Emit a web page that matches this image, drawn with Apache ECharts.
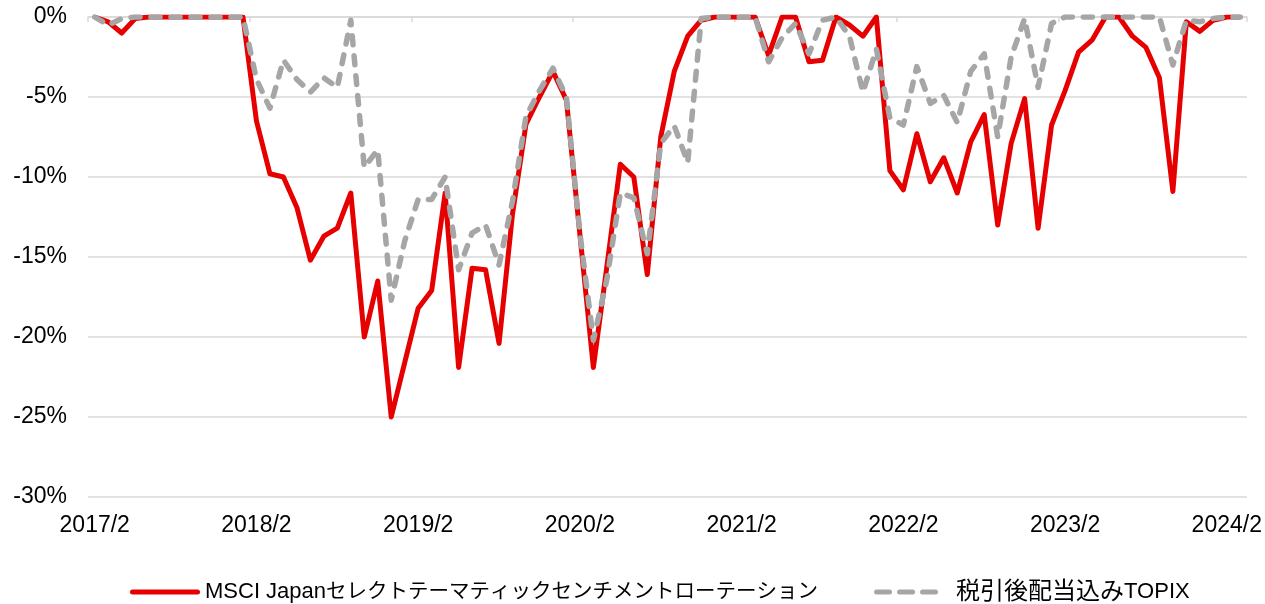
<!DOCTYPE html>
<html>
<head>
<meta charset="utf-8">
<title>drawdown</title>
<script src="https://cdn.jsdelivr.net/npm/echarts@6/dist/echarts.min.js"></script>
<style>
  html, body { margin: 0; padding: 0; background: #fff; }
  #main { width: 1265px; height: 604px; }
</style>
</head>
<body>
<div id="main"></div>
<script>
// 月次カテゴリ 2017/2 〜 2024/3
var months = [];
for (var k = 0; k < 86; k++) {
  var m = 1 + k;               // 2017/2 を起点
  var y = 2017 + Math.floor(m / 12);
  months.push(y + '/' + (m % 12 + 1));
}

var seriesNames = ['MSCI Japanセレクトテーマティックセンチメントローテーション', '税引後配当込みTOPIX'];

// ドローダウン(%)
var msciDrawdown = [
  0, -0.3, -1.0, -0.1, 0, 0, 0, 0, 0, 0, 0, 0,
  -6.5, -9.8, -10.0, -11.9, -15.2, -13.7, -13.2, -11.0, -20.0, -16.5, -25.0, -21.6,
  -18.2, -17.1, -11.0, -21.9, -15.7, -15.8, -20.4, -12.3, -6.7, -5.0, -3.4, -5.2,
  -13.6, -21.9, -15.6, -9.2, -10.0, -16.1, -7.5, -3.4, -1.2, -0.2, 0, 0,
  0, 0, -2.4, 0, 0, -2.8, -2.7, 0, -0.5, -1.2, 0, -9.6,
  -10.8, -7.3, -10.3, -8.8, -11.0, -7.8, -6.1, -13.0, -7.9, -5.1, -13.2, -6.75,
  -4.6, -2.2, -1.45, 0, 0, -1.2, -1.9, -3.8, -10.9, -0.3, -0.9, -0.2,
  0, 0
];
var topixDrawdown = [
  0, -0.5, -0.1, 0, 0, 0, 0, 0, 0, 0, 0, 0,
  -3.9, -5.7, -2.7, -3.9, -4.7, -3.8, -4.4, -0.2, -9.4, -8.3, -17.7, -14.0,
  -11.4, -11.4, -10.0, -15.8, -13.5, -13.0, -15.5, -11.5, -6.2, -4.6, -3.2, -5.0,
  -13.5, -20.2, -16.4, -11.0, -11.3, -14.8, -7.9, -6.8, -9.1, -0.1, 0, 0,
  0, 0, -2.8, -1.3, -0.4, -2.3, -0.2, 0, -1.2, -4.7, -2.0, -6.3,
  -6.75, -3.1, -5.4, -4.9, -6.6, -3.4, -2.3, -7.5, -2.5, -0.1, -4.4, -0.4,
  0, 0, 0, 0, 0, 0, 0, 0, -3.0, -0.2, -0.3, -0.1,
  0, 0
];

var font = "'Liberation Sans', Arial, 'Noto Sans CJK JP', sans-serif";
var red = '#e60000';
var gray = '#a6a6a6';

// 凡例アイコン（実線・破線）
var solidIcon = 'path://M2.5,0H67.5A2.5,2.5,0,0,1,67.5,5H2.5A2.5,2.5,0,0,1,2.5,0Z';
var dashIcon = 'path://M2.5,0H15.5A2.5,2.5,0,0,1,15.5,5H2.5A2.5,2.5,0,0,1,2.5,0Z' +
  'M25.5,0H38.5A2.5,2.5,0,0,1,38.5,5H25.5A2.5,2.5,0,0,1,25.5,0Z' +
  'M48.5,0H61.5A2.5,2.5,0,0,1,61.5,5H48.5A2.5,2.5,0,0,1,48.5,0Z';

var myChart = echarts.init(document.getElementById('main'));
myChart.setOption({
  animation: false,
  textStyle: { fontFamily: font },
  grid: { left: 88, right: 18, top: 17, bottom: 107 },
  legend: {
    left: 125,
    top: 575,
    itemWidth: 70,
    itemHeight: 5,
    itemGap: 56,
    itemStyle: { borderWidth: 0 },
    formatter: function (name) {
      if (name === seriesNames[0]) {
        return '{lat|MSCI Japan}{kana|' + name.slice(10) + '}';
      }
      return '{kanji|' + name.slice(0, 7) + '}{lat|' + name.slice(7) + '}';
    },
    textStyle: {
      color: '#000',
      fontFamily: font,
      rich: {
        lat: { fontSize: 22, color: '#000', fontFamily: font },
        kana: { fontSize: 20.5, color: '#000', fontFamily: font },
        kanji: { fontSize: 24, color: '#000', fontFamily: font, padding: [0, 0, 0, 10] }
      }
    },
    data: [
      { name: seriesNames[0], icon: solidIcon },
      { name: seriesNames[1], icon: dashIcon }
    ]
  },
  xAxis: [{
    type: 'category',
    position: 'bottom',
    data: months,
    boundaryGap: true,
    axisLine: { show: false },
    axisTick: { show: false },
    axisLabel: {
      interval: 11,
      margin: 17,
      fontSize: 23,
      color: '#000'
    },
    splitLine: { show: false }
  }, {
    type: 'category',
    position: 'top',
    data: months,
    boundaryGap: true,
    axisLine: { show: true, lineStyle: { color: '#d9d9d9', width: 1.5 } },
    axisTick: { show: true, inside: true, interval: 11, length: 5, lineStyle: { color: '#d9d9d9', width: 1.5 } },
    axisLabel: { show: false }
  }],
  yAxis: {
    type: 'value',
    min: -30,
    max: 0,
    interval: 5,
    axisLine: { show: false },
    axisTick: { show: false },
    axisLabel: { formatter: '{value}%', fontSize: 23, color: '#000', margin: 21 },
    splitLine: { lineStyle: { color: '#d9d9d9', width: 1.5 } }
  },
  series: [{
    name: seriesNames[0],
    type: 'line',
    data: msciDrawdown,
    symbol: 'none',
    z: 3,
    itemStyle: { color: red },
    lineStyle: { color: red, width: 5, join: 'round' }
  }, {
    name: seriesNames[1],
    type: 'line',
    data: topixDrawdown,
    symbol: 'none',
    z: 4,
    itemStyle: { color: gray },
    lineStyle: { color: gray, width: 5.5, type: [9, 11], cap: 'round', join: 'round' }
  }]
});
</script>
</body>
</html>
